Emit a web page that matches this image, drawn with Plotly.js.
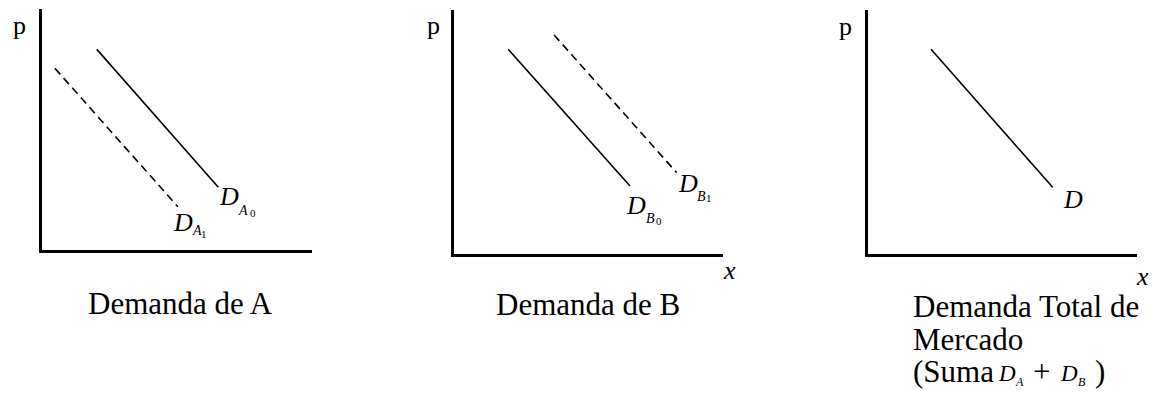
<!DOCTYPE html>
<html>
<head>
<meta charset="utf-8">
<script src="https://cdn.plot.ly/plotly-3.0.1.min.js"></script>
<style>html,body{margin:0;padding:0;background:#fff;}#chart{width:1161px;height:408px;}</style>
</head>
<body>
<div id="chart"></div>
<script>
// Demand curves (quantity x, price p), axes 0..10
const qA0 = [2.03, 6.53], pA0 = [8.32, 2.59];   // D_A0 (solid)
const qA1 = [0.48, 5.03], pA1 = [7.53, 1.78];   // D_A1 (dashed)
const qB0 = [2.03, 6.55], pB0 = [8.39, 2.79];   // D_B0 (solid)
const qB1 = [3.73, 8.28], pB1 = [8.98, 3.34];   // D_B1 (dashed)
const qT  = [2.34, 6.87], pT  = [8.39, 2.74];   // D total (solid)

const panelTitles = ["Demanda de A", "Demanda de B"];
const totalTitle = ["Demanda Total de", "Mercado", "(Suma"];
const yLabel = "p";
const xLabel = "x";

const W = 1161, H = 408;
const px = v => v / W;
const py = v => 1 - v / H;
const FONT = "Liberation Serif, Times New Roman, serif";

function ax(d0, d1, anchor) {
  return {domain: [d0, d1], anchor: anchor, range: [0, 10], showline: true, linewidth: 3,
          linecolor: "#000", showgrid: false, zeroline: false, showticklabels: false,
          ticks: "", fixedrange: true};
}

const lineSolid = {color: "#000", width: 1.6};
const lineDash = {color: "#000", width: 1.6, dash: "8px,5px"};

const traces = [
  {x: qA0, y: pA0, xaxis: "x", yaxis: "y", mode: "lines", line: lineSolid},
  {x: qA1, y: pA1, xaxis: "x", yaxis: "y", mode: "lines", line: lineDash},
  {x: qB0, y: pB0, xaxis: "x2", yaxis: "y2", mode: "lines", line: lineSolid},
  {x: qB1, y: pB1, xaxis: "x2", yaxis: "y2", mode: "lines", line: lineDash},
  {x: qT,  y: pT,  xaxis: "x3", yaxis: "y3", mode: "lines", line: lineSolid}
];

function ann(text, x, y, size, xanchor) {
  return {text: text, x: px(x), y: py(y), xref: "paper", yref: "paper", showarrow: false,
          xanchor: xanchor || "center", yanchor: "middle", borderpad: 0,
          font: {family: FONT, size: size, color: "#000"}};
}

const annotations = [
  // axis labels
  ann(yLabel, 19.5, 25, 26), ann(yLabel, 433, 25, 26), ann(yLabel, 845.5, 27, 26),
  ann("<i>" + xLabel + "</i>", 729, 270, 26), ann("<i>" + xLabel + "</i>", 1142.5, 276, 26),
  // curve labels panel A
  ann("<i>D</i>", 228.5, 196.5, 26), ann("<i>A</i>", 243.5, 210.5, 14), ann("0", 252.5, 212.5, 11),
  ann("<i>D</i>", 182.5, 222.5, 26), ann("<i>A</i>", 197, 230, 14), ann("1", 204, 234, 11),
  // panel B
  ann("<i>D</i>", 636, 205.5, 26), ann("<i>B</i>", 650.5, 218.5, 14), ann("0", 658.5, 220.5, 11),
  ann("<i>D</i>", 687.5, 184, 26), ann("<i>B</i>", 701.5, 196.5, 14), ann("1", 708.5, 198, 11),
  // panel total
  ann("<i>D</i>", 1072.5, 199.5, 26),
  // titles
  ann(panelTitles[0], 180.5, 303.6, 31), ann(panelTitles[1], 588, 304.6, 31),
  ann(totalTitle[0], 912, 306.6, 31, "left"), ann(totalTitle[1], 912, 339.6, 31, "left"),
  ann(totalTitle[2], 912, 371.6, 31, "left"),
  ann("<i>D</i>", 1007, 373, 23), ann("<i>A</i>", 1019.5, 382, 12),
  ann("+", 1041, 371.6, 31),
  ann("<i>D</i>", 1069, 373, 23), ann("<i>B</i>", 1082, 382, 12),
  ann(")", 1100, 371.6, 31)
];

const layout = {
  width: W, height: H, margin: {l: 0, r: 0, t: 0, b: 0},
  paper_bgcolor: "#fff", plot_bgcolor: "rgba(0,0,0,0)", showlegend: false,
  xaxis: ax(px(42), px(312), "y"),
  yaxis: ax(py(249.5), py(9), "x"),
  xaxis2: ax(px(453.5), px(723), "y2"),
  yaxis2: ax(py(254.2), py(10), "x2"),
  xaxis3: ax(px(868.2), px(1136.7), "y3"),
  yaxis3: ax(py(254.2), py(10), "x3"),
  annotations: annotations
};

Plotly.newPlot("chart", traces, layout, {displayModeBar: false, staticPlot: true});
</script>
</body>
</html>
